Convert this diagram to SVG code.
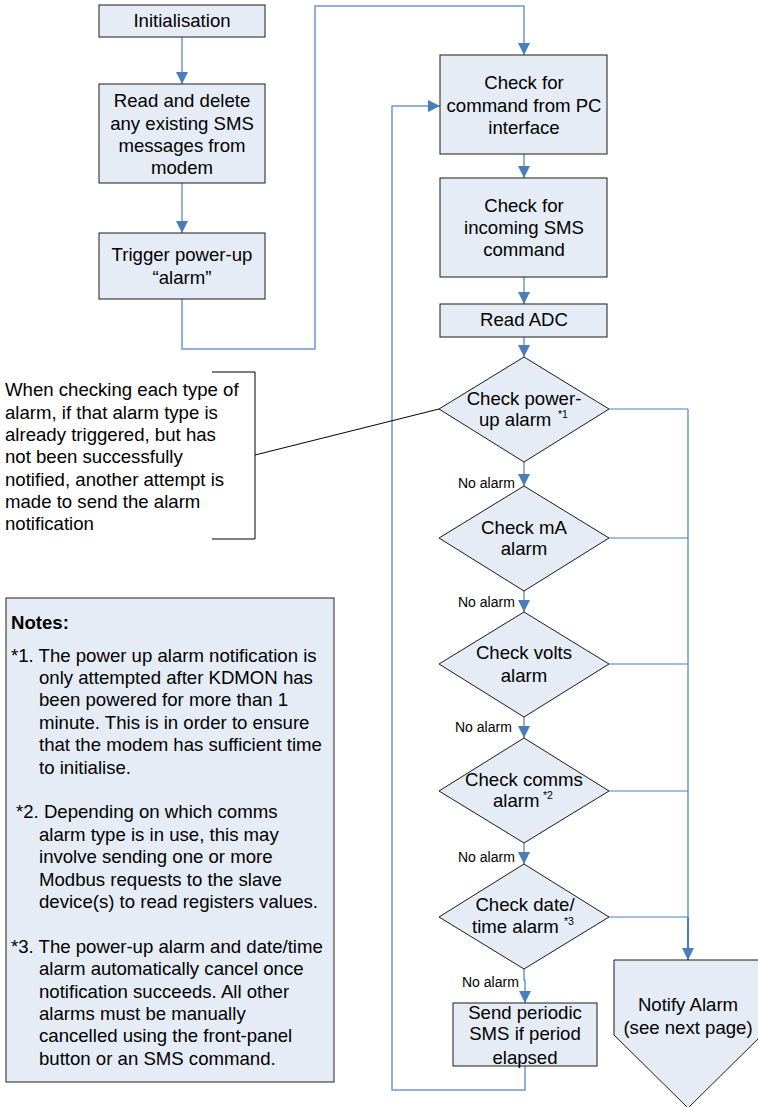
<svg xmlns="http://www.w3.org/2000/svg" width="758" height="1107" viewBox="0 0 758 1107">
<style>
.box{fill:#e6ecf6;stroke:#1a1a1a;stroke-width:1}
.t{font-family:"Liberation Sans",Arial,sans-serif;font-size:18.6px;fill:#000;text-anchor:middle}
.l{font-family:"Liberation Sans",Arial,sans-serif;font-size:18.6px;fill:#000}
.na{font-family:"Liberation Sans",Arial,sans-serif;font-size:14px;fill:#000}
.sup{font-family:"Liberation Sans",Arial,sans-serif;font-size:10.5px;fill:#000}
.c{fill:none;stroke:#4a7ebb;stroke-width:1.2}
.cl{fill:none;stroke:#6f97cf;stroke-width:1.5}
</style>
<defs>
<marker id="ah" markerUnits="userSpaceOnUse" markerWidth="12" markerHeight="12" refX="12" refY="6" orient="auto">
<path d="M0,0 L12,6 L0,12 z" fill="#4a7ebb"/>
</marker>
</defs>
<g id="connectors">
<path class="c" d="M182,37 V84" marker-end="url(#ah)"/>
<path class="c" d="M182,183 V233" marker-end="url(#ah)"/>
<path class="cl" d="M182,299 V349 H315 V6 H524 V55" marker-end="url(#ah)"/>
<path class="c" d="M524,154 V178" marker-end="url(#ah)"/>
<path class="c" d="M524,277 V304" marker-end="url(#ah)"/>
<path class="c" d="M524,337 V357" marker-end="url(#ah)"/>
<path class="c" d="M524,462 V486" marker-end="url(#ah)"/>
<path class="c" d="M524,591 V612" marker-end="url(#ah)"/>
<path class="c" d="M524,717 V738" marker-end="url(#ah)"/>
<path class="c" d="M524,843 V864" marker-end="url(#ah)"/>
<path class="c" d="M524,969 V980 H525 V1003" marker-end="url(#ah)"/>
<path class="cl" d="M525,1066 V1090 H392 V106 H440" marker-end="url(#ah)"/>
<path class="c" d="M609,409 H688"/>
<path class="c" d="M609,538 H688"/>
<path class="c" d="M609,664 H688"/>
<path class="c" d="M609,791 H688"/>
<path class="c" d="M609,917 H688"/>
<path class="c" d="M688,409 V917"/>
<path class="c" style="stroke-width:2" d="M688,917 V960" marker-end="url(#ah)"/>
<text class="na" x="458" y="488">No alarm</text>
<text class="na" x="458" y="607">No alarm</text>
<text class="na" x="455" y="732">No alarm</text>
<text class="na" x="458" y="862">No alarm</text>
<text class="na" x="462" y="987">No alarm</text>
<path d="M255,455 L439,409" fill="none" stroke="#000" stroke-width="1"/>
</g>
<g id="n-init">
<rect class="box" x="99" y="5" width="166" height="32"/>
<text class="t" x="182" y="27">Initialisation</text>
</g>
<g id="n-read">
<rect class="box" x="99" y="84" width="166" height="99"/>
<text class="t" x="182" y="107">Read and delete</text>
<text class="t" x="182" y="130">any existing SMS</text>
<text class="t" x="182" y="152">messages from</text>
<text class="t" x="182" y="174">modem</text>
</g>
<g id="n-trigger">
<rect class="box" x="99" y="233" width="166" height="66"/>
<text class="t" x="182" y="261">Trigger power-up</text>
<text class="t" x="182" y="284">“alarm”</text>
</g>
<g id="n-pc">
<rect class="box" x="440" y="55" width="167" height="99"/>
<text class="t" x="524" y="89">Check for</text>
<text class="t" x="524" y="112">command from PC</text>
<text class="t" x="524" y="134">interface</text>
</g>
<g id="n-sms">
<rect class="box" x="440" y="178" width="167" height="99"/>
<text class="t" x="524" y="212">Check for</text>
<text class="t" x="524" y="234">incoming SMS</text>
<text class="t" x="524" y="256">command</text>
</g>
<g id="n-adc">
<rect class="box" x="440" y="304" width="167" height="33"/>
<text class="t" x="524" y="326">Read ADC</text>
</g>
<g id="d-power">
<polygon class="box" points="524,357 609,409 524,462 439,409"/>
<text class="t" x="524" y="405">Check power-</text>
<text class="l" x="479" y="426">up alarm</text>
<text class="sup" x="558" y="418">*1</text>
</g>
<g id="d-ma">
<polygon class="box" points="524,486 609,538 524,591 439,538"/>
<text class="t" x="524" y="534">Check mA</text>
<text class="t" x="524" y="555">alarm</text>
</g>
<g id="d-volts">
<polygon class="box" points="524,612 609,664 524,717 439,664"/>
<text class="t" x="524" y="659">Check volts</text>
<text class="t" x="524" y="682">alarm</text>
</g>
<g id="d-comms">
<polygon class="box" points="524,738 609,791 524,843 439,791"/>
<text class="t" x="524" y="786">Check comms</text>
<text class="l" x="493" y="807">alarm</text>
<text class="sup" x="543" y="799">*2</text>
</g>
<g id="d-date">
<polygon class="box" points="524,864 609,917 524,969 439,917"/>
<text class="t" x="525" y="911">Check date/</text>
<text class="l" x="472" y="933">time alarm</text>
<text class="sup" x="564" y="925">*3</text>
</g>
<g id="n-send">
<rect class="box" x="453" y="1003" width="144" height="63"/>
<text class="t" x="525" y="1019">Send periodic</text>
<text class="t" x="525" y="1040">SMS if period</text>
<text class="t" x="525" y="1064">elapsed</text>
</g>
<g id="n-notify">
<polygon class="box" points="614,960 762,960 762,1035 688,1108 614,1035"/>
<text class="t" x="688" y="1011">Notify Alarm</text>
<text class="t" x="688" y="1034">(see next page)</text>
</g>
<g id="annotation">
<path d="M212,372 H255 V539 H212" fill="none" stroke="#000" stroke-width="1"/>
<text class="l" x="5" y="396">When checking each type of</text>
<text class="l" x="5" y="418.5">alarm, if that alarm type is</text>
<text class="l" x="5" y="441">already triggered, but has</text>
<text class="l" x="5" y="463">not been successfully</text>
<text class="l" x="5" y="485.5">notified, another attempt is</text>
<text class="l" x="5" y="508">made to send the alarm</text>
<text class="l" x="5" y="530">notification</text>
</g>
<g id="notes">
<rect x="6" y="598" width="328" height="484" fill="#e6ecf6" stroke="#444" stroke-width="1.2"/>
<text class="l" x="11" y="629" font-weight="bold">Notes:</text>
<text class="l" x="11" y="661.5">*1. The power up alarm notification is</text>
<text class="l" x="39" y="683.9">only attempted after KDMON has</text>
<text class="l" x="39" y="706.3">been powered for more than 1</text>
<text class="l" x="39" y="728.7">minute. This is in order to ensure</text>
<text class="l" x="39" y="751.1">that the modem has sufficient time</text>
<text class="l" x="39" y="773.5">to initialise.</text>
<text class="l" x="16" y="818.3">*2. Depending on which comms</text>
<text class="l" x="39" y="840.7">alarm type is in use, this may</text>
<text class="l" x="39" y="863.1">involve sending one or more</text>
<text class="l" x="39" y="885.5">Modbus requests to the slave</text>
<text class="l" x="39" y="907.9">device(s) to read registers values.</text>
<text class="l" x="11" y="952.7">*3. The power-up alarm and date/time</text>
<text class="l" x="39" y="975.1">alarm automatically cancel once</text>
<text class="l" x="39" y="997.5">notification succeeds. All other</text>
<text class="l" x="39" y="1019.9">alarms must be manually</text>
<text class="l" x="39" y="1042.3">cancelled using the front-panel</text>
<text class="l" x="39" y="1064.7">button or an SMS command.</text>
</g>
</svg>
